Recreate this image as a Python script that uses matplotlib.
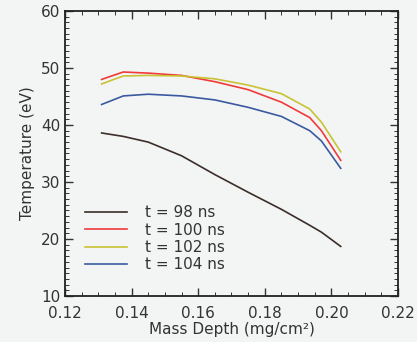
import matplotlib
matplotlib.use("Agg")
import matplotlib.pyplot as plt
from matplotlib.ticker import MultipleLocator

# Mass depth sample positions (mg/cm^2)
depth = [0.131, 0.1375, 0.145, 0.155, 0.165, 0.175, 0.185, 0.1935, 0.197, 0.2028]

# Temperature (eV) for each time
t98 = [38.6, 38.0, 37.0, 34.6, 31.3, 28.2, 25.2, 22.4, 21.2, 18.7]
t100 = [48.0, 49.3, 49.1, 48.7, 47.6, 46.2, 44.0, 41.3, 39.0, 33.8]
t102 = [47.2, 48.6, 48.7, 48.6, 48.1, 47.0, 45.5, 42.8, 40.5, 35.3]
t104 = [43.6, 45.1, 45.4, 45.1, 44.4, 43.1, 41.5, 39.0, 37.2, 32.4]

labels = ["t = 98 ns", "t = 100 ns", "t = 102 ns", "t = 104 ns"]
colors = ["#3a2e28", "#f03a3a", "#c8c234", "#3a5aa0"]

bg = "#f3f5f5"
ink = "#333333"

fig = plt.figure(figsize=(4.17, 3.42), dpi=100, facecolor=bg)
ax = fig.add_axes([65 / 417, 1 - 296 / 342, (398 - 65) / 417, (296 - 11) / 342])
ax.set_facecolor(bg)

for series, lab, c in zip([t98, t100, t102, t104], labels, colors):
    ax.plot(depth, series, color=c, linewidth=1.2, label=lab)

ax.set_xlim(0.12, 0.22)
ax.set_ylim(10, 60)
ax.xaxis.set_major_locator(MultipleLocator(0.02))
ax.xaxis.set_minor_locator(MultipleLocator(0.005))
ax.yaxis.set_major_locator(MultipleLocator(10))
ax.yaxis.set_minor_locator(MultipleLocator(1))
ax.xaxis.set_major_formatter(matplotlib.ticker.FormatStrFormatter('%.2f'))

ax.tick_params(which="both", direction="in", top=True, right=True, colors=ink,
               labelsize=11, labelcolor=ink)
ax.tick_params(which="major", length=6, width=1)
ax.tick_params(which="minor", length=3, width=0.7)
ax.tick_params(axis="x", which="major", pad=7)
for s in ax.spines.values():
    s.set_color("#222222")
    s.set_linewidth(1.3)

ax.set_xlabel("Mass Depth (mg/cm²)", fontsize=11, color=ink, labelpad=1)
ax.set_ylabel("Temperature (eV)", fontsize=11, color=ink, labelpad=4)

leg = ax.legend(loc="lower left", bbox_to_anchor=(0.02, 0.035), frameon=False,
                fontsize=11, handlelength=2.7, handletextpad=1.2,
                labelspacing=0.15, labelcolor=ink)

fig.savefig("out.png", dpi=100, facecolor=bg)
